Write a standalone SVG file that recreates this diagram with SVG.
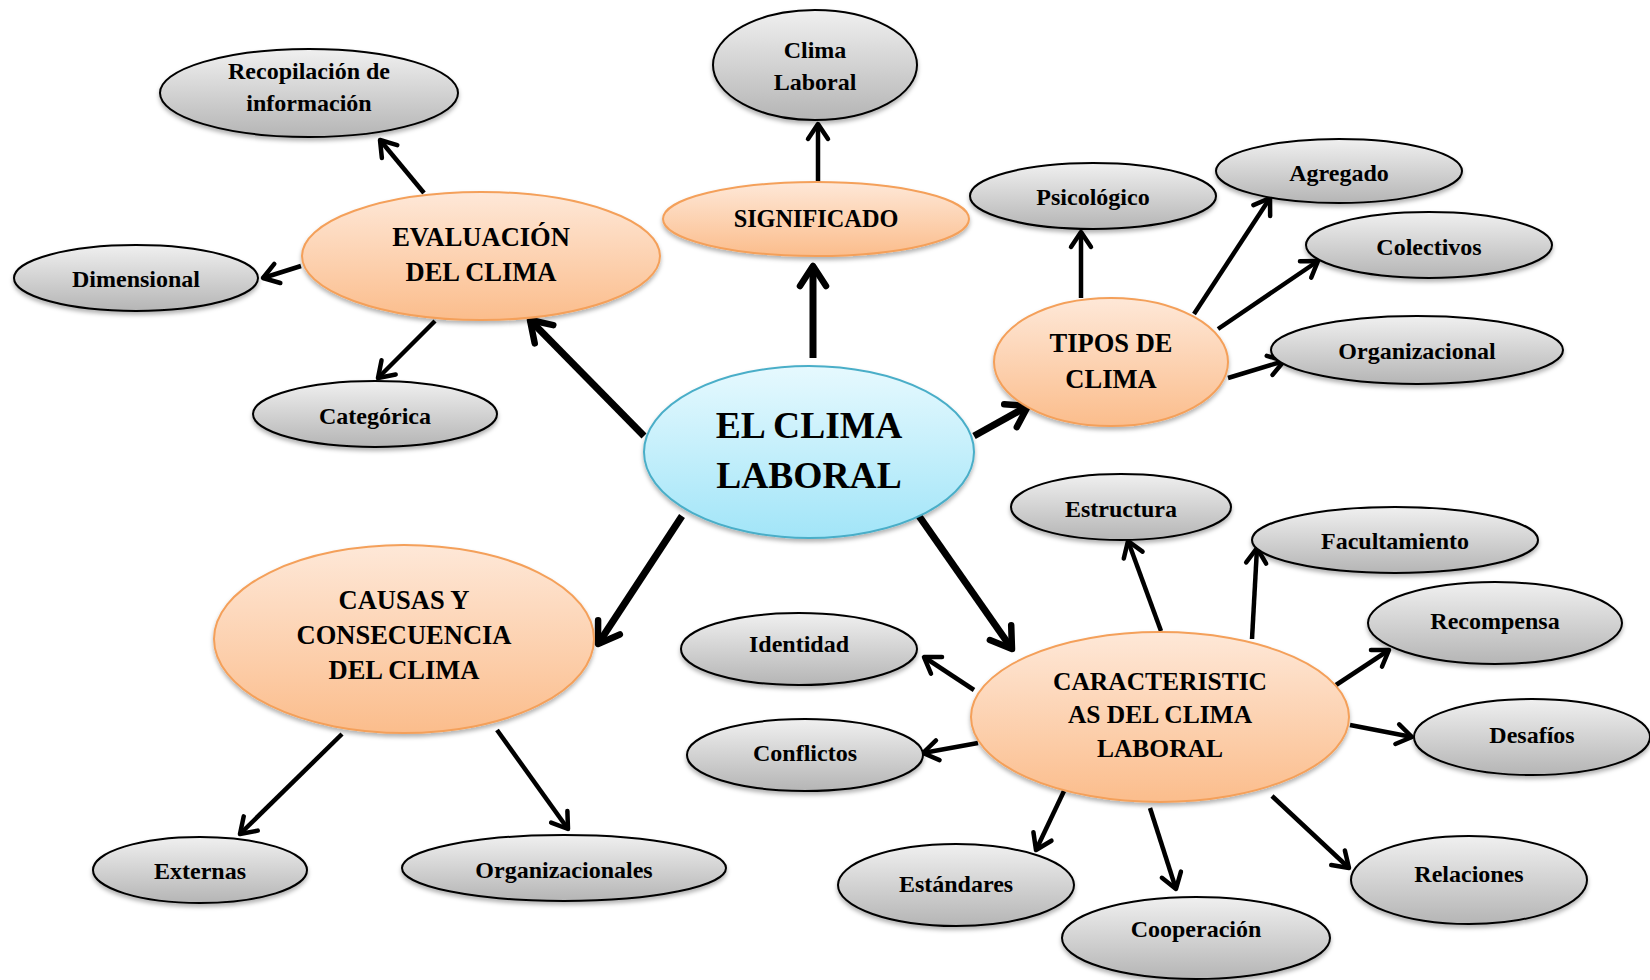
<svg xmlns="http://www.w3.org/2000/svg" width="1650" height="980" viewBox="0 0 1650 980">
<defs>
<linearGradient id="gGray" x1="0" y1="0" x2="0" y2="1"><stop offset="0" stop-color="#f0f0f0"/><stop offset="1" stop-color="#b5b5b5"/></linearGradient>
<linearGradient id="gOrange" x1="0" y1="0" x2="0" y2="1"><stop offset="0" stop-color="#fee8d8"/><stop offset="1" stop-color="#fbbd8c"/></linearGradient>
<linearGradient id="gBlue" x1="0" y1="0" x2="0" y2="1"><stop offset="0" stop-color="#e6f9fe"/><stop offset="1" stop-color="#a2e5f8"/></linearGradient>
<filter id="sh" x="-10%" y="-10%" width="120%" height="130%"><feDropShadow dx="0" dy="3" stdDeviation="2" flood-color="#000" flood-opacity="0.3"/></filter>
<marker id="ahB" markerUnits="userSpaceOnUse" viewBox="-30 -20 34 40" markerWidth="34" markerHeight="40" refX="0" refY="0" orient="auto" overflow="visible"><path d="M-20,-13 L0,0 L-20,13" fill="none" stroke="#000" stroke-width="6.5" stroke-linecap="round" stroke-linejoin="round"/></marker>
<marker id="ahS" markerUnits="userSpaceOnUse" viewBox="-24 -16 28 32" markerWidth="28" markerHeight="32" refX="0" refY="0" orient="auto" overflow="visible"><path d="M-15,-10 L0,0 L-15,10" fill="none" stroke="#000" stroke-width="4.5" stroke-linecap="round" stroke-linejoin="round"/></marker>
</defs>
<style>
.g{fill:url(#gGray);stroke:#000;stroke-width:2;filter:url(#sh)}
.o{fill:url(#gOrange);stroke:#f4a05a;stroke-width:2;filter:url(#sh)}
.b{fill:url(#gBlue);stroke:#4aaec8;stroke-width:2;filter:url(#sh)}
text{font-family:"Liberation Serif","Times New Roman",serif;font-weight:bold;fill:#000;text-anchor:middle}
.tg{font-size:24px}
.to{font-size:26.5px}
.tk{font-size:25.5px}
.ts{font-size:24.3px}
.tc{font-size:37.5px}
.big{stroke:#000;stroke-width:7;fill:none;marker-end:url(#ahB)}
.sm{stroke:#000;stroke-width:4.5;fill:none;marker-end:url(#ahS)}
</style>
<rect width="1650" height="980" fill="#fff"/>
<g id="connectors">
<line class="big" x1="813" y1="358" x2="813" y2="266"/>
<line class="big" x1="644" y1="436" x2="530" y2="320"/>
<line class="big" x1="974" y1="436" x2="1028" y2="406"/>
<line class="big" x1="682" y1="516" x2="598" y2="644"/>
<line class="big" x1="919" y1="516" x2="1012" y2="649"/>
<line class="sm" x1="818" y1="184" x2="818" y2="124"/>
<line class="sm" x1="424" y1="193" x2="380" y2="140"/>
<line class="sm" x1="301" y1="266" x2="263" y2="278"/>
<line class="sm" x1="435" y1="321" x2="378" y2="378"/>
<line class="sm" x1="1081" y1="298" x2="1081" y2="232"/>
<line class="sm" x1="1194" y1="314" x2="1270" y2="198"/>
<line class="sm" x1="1218" y1="329" x2="1318" y2="261"/>
<line class="sm" x1="1228" y1="378" x2="1284" y2="361"/>
<line class="sm" x1="1161" y1="631" x2="1128" y2="541"/>
<line class="sm" x1="1252" y1="639" x2="1257" y2="548"/>
<line class="sm" x1="1336" y1="685" x2="1389" y2="650"/>
<line class="sm" x1="1350" y1="725" x2="1412" y2="737"/>
<line class="sm" x1="1272" y1="796" x2="1349" y2="868"/>
<line class="sm" x1="1150" y1="808" x2="1176" y2="889"/>
<line class="sm" x1="1064" y1="791" x2="1036" y2="850"/>
<line class="sm" x1="974" y1="690" x2="924" y2="657"/>
<line class="sm" x1="978" y1="743" x2="923" y2="753"/>
<line class="sm" x1="342" y1="734" x2="240" y2="834"/>
<line class="sm" x1="497" y1="730" x2="568" y2="829"/>
</g>
<g id="n-center"><ellipse class="b" cx="809" cy="452" rx="165" ry="86"/><text class="tc" x="809" y="438">EL CLIMA</text><text class="tc" x="809" y="488">LABORAL</text></g>
<g id="n-significado"><ellipse class="o" cx="816" cy="219" rx="153" ry="37"/><text class="ts" x="816" y="227">SIGNIFICADO</text></g>
<g id="n-clima-laboral"><ellipse class="g" cx="815" cy="65" rx="102" ry="55"/><text class="tg" x="815" y="58">Clima</text><text class="tg" x="815" y="90">Laboral</text></g>
<g id="n-evaluacion"><ellipse class="o" cx="481" cy="256" rx="179" ry="64"/><text class="to" x="481" y="246">EVALUACIÓN</text><text class="to" x="481" y="281">DEL CLIMA</text></g>
<g id="n-recopilacion"><ellipse class="g" cx="309" cy="93" rx="149" ry="44"/><text class="tg" x="309" y="79">Recopilación de</text><text class="tg" x="309" y="111">información</text></g>
<g id="n-dimensional"><ellipse class="g" cx="136" cy="278" rx="122" ry="33"/><text class="tg" x="136" y="287">Dimensional</text></g>
<g id="n-categorica"><ellipse class="g" cx="375" cy="414" rx="122" ry="33"/><text class="tg" x="375" y="424">Categórica</text></g>
<g id="n-tipos"><ellipse class="o" cx="1111" cy="362" rx="117" ry="64"/><text class="to" x="1111" y="352">TIPOS DE</text><text class="to" x="1111" y="388">CLIMA</text></g>
<g id="n-psicologico"><ellipse class="g" cx="1093" cy="196" rx="123" ry="33"/><text class="tg" x="1093" y="205">Psicológico</text></g>
<g id="n-agregado"><ellipse class="g" cx="1339" cy="171" rx="123" ry="32"/><text class="tg" x="1339" y="181">Agregado</text></g>
<g id="n-colectivos"><ellipse class="g" cx="1429" cy="245" rx="123" ry="33"/><text class="tg" x="1429" y="255">Colectivos</text></g>
<g id="n-organizacional"><ellipse class="g" cx="1417" cy="350" rx="146" ry="34"/><text class="tg" x="1417" y="359">Organizacional</text></g>
<g id="n-caracteristicas"><ellipse class="o" cx="1160" cy="717" rx="189" ry="85"/><text class="tk" x="1160" y="690">CARACTERISTIC</text><text class="tk" x="1160" y="723">AS DEL CLIMA</text><text class="tk" x="1160" y="757">LABORAL</text></g>
<g id="n-estructura"><ellipse class="g" cx="1121" cy="507" rx="110" ry="33"/><text class="tg" x="1121" y="517">Estructura</text></g>
<g id="n-facultamiento"><ellipse class="g" cx="1395" cy="540" rx="143" ry="33"/><text class="tg" x="1395" y="549">Facultamiento</text></g>
<g id="n-recompensa"><ellipse class="g" cx="1495" cy="623" rx="127" ry="41"/><text class="tg" x="1495" y="629">Recompensa</text></g>
<g id="n-desafios"><ellipse class="g" cx="1532" cy="737" rx="118" ry="38"/><text class="tg" x="1532" y="743">Desafíos</text></g>
<g id="n-relaciones"><ellipse class="g" cx="1469" cy="880" rx="118" ry="44"/><text class="tg" x="1469" y="882">Relaciones</text></g>
<g id="n-cooperacion"><ellipse class="g" cx="1196" cy="938" rx="134" ry="41"/><text class="tg" x="1196" y="937">Cooperación</text></g>
<g id="n-estandares"><ellipse class="g" cx="956" cy="885" rx="118" ry="41"/><text class="tg" x="956" y="892">Estándares</text></g>
<g id="n-identidad"><ellipse class="g" cx="799" cy="649" rx="118" ry="36"/><text class="tg" x="799" y="652">Identidad</text></g>
<g id="n-conflictos"><ellipse class="g" cx="805" cy="755" rx="118" ry="36"/><text class="tg" x="805" y="761">Conflictos</text></g>
<g id="n-causas"><ellipse class="o" cx="404" cy="639" rx="190" ry="94"/><text class="to" x="404" y="609">CAUSAS Y</text><text class="to" x="404" y="644">CONSECUENCIA</text><text class="to" x="404" y="679">DEL CLIMA</text></g>
<g id="n-externas"><ellipse class="g" cx="200" cy="870" rx="107" ry="33"/><text class="tg" x="200" y="879">Externas</text></g>
<g id="n-organizacionales"><ellipse class="g" cx="564" cy="868" rx="162" ry="33"/><text class="tg" x="564" y="878">Organizacionales</text></g>
</svg>
